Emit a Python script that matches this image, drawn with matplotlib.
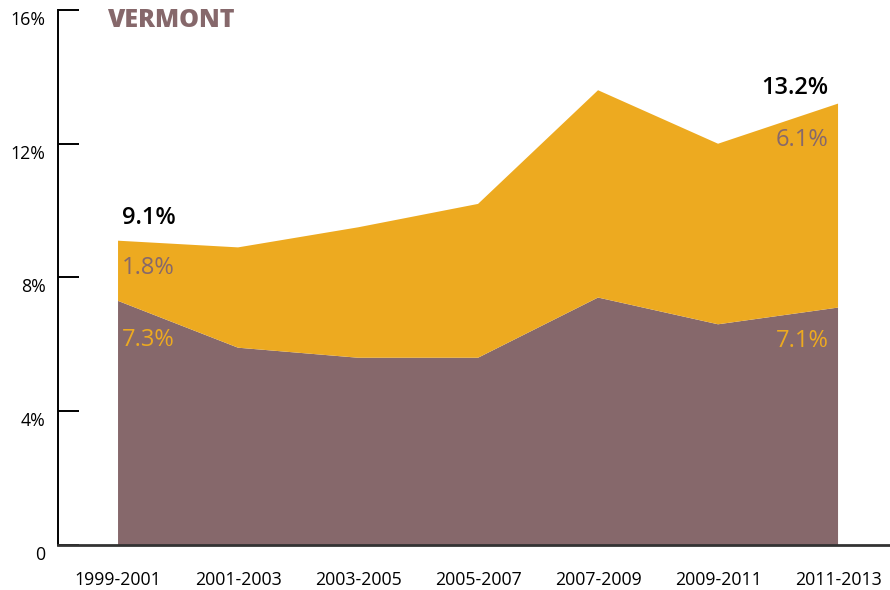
import numpy as np
import matplotlib.pyplot as plt
from matplotlib.transforms import ScaledTranslation

plt.rcParams['font.family'] = ['Open Sans', 'DejaVu Sans']

# rates per period, in percent
periods = ["1999-2001", "2001-2003", "2003-2005", "2005-2007", "2007-2009", "2009-2011", "2011-2013"]
lower = [7.3, 5.9, 5.6, 5.6, 7.4, 6.6, 7.1]
upper = [1.8, 3.0, 3.9, 4.6, 6.2, 5.4, 6.1]
yticks = [0, 4, 8, 12, 16]
ytick_labels = ["0", "4%", "8%", "12%", "16%"]

purple = "#86686b"
gold = "#edaa20"

total = np.array(lower) + np.array(upper)
x = np.arange(len(periods))

fig = plt.figure(figsize=(8.9, 5.9), dpi=100)
ax = fig.add_axes([0.0652, 0.0763, 0.9348, 0.9068])

ax.stackplot(x, lower, upper, colors=[purple, gold], linewidth=0)

ax.set_xlim(-0.5, 6.433)
ax.set_ylim(0, 16)

#spines: black on the left, dark grey along the bottom
for s in ["top", "right"]:
    ax.spines[s].set_visible(False)
ax.spines["left"].set_color("black")
ax.spines["left"].set_linewidth(1.4)
ax.spines["bottom"].set_color("#333333")
ax.spines["bottom"].set_linewidth(2)

ax.set_xticks(x)
ax.set_xticklabels(periods, fontsize=12.8)
ax.tick_params(axis="x", length=0, pad=19)

ax.set_yticks(yticks)
ax.set_yticklabels(ytick_labels, fontsize=12.8)
ax.tick_params(axis="y", direction="in", length=15, width=1.4, color="black", pad=9)
# shift the y labels a little below their ticks
for lab in ax.get_yticklabels():
    lab.set_transform(lab.get_transform() + ScaledTranslation(0, -8 / 100, fig.dpi_scale_trans))

ax.text(0.059, 1.004, "VERMONT", transform=ax.transAxes, color=purple, fontsize=18,
        fontweight="heavy", va="top", ha="left")

#value labels at both ends
first, last = 0, len(periods) - 1
ax.annotate(f"{total[first]:.1f}%", (first, total[first]), xytext=(3, 16), textcoords="offset points",
            fontsize=17, fontweight="semibold", color="black", ha="left", va="center")
ax.annotate(f"{upper[first]:.1f}%", (first, total[first]), xytext=(3, -20), textcoords="offset points",
            fontsize=17, color=purple, ha="left", va="center")
ax.annotate(f"{lower[first]:.1f}%", (first, lower[first]), xytext=(3, -28), textcoords="offset points",
            fontsize=17, color=gold, ha="left", va="center")

ax.annotate(f"{total[last]:.1f}%", (last, total[last]), xytext=(-7, 11), textcoords="offset points",
            fontsize=17, fontweight="semibold", color="black", ha="right", va="center")
ax.annotate(f"{upper[last]:.1f}%", (last, total[last]), xytext=(-7, -26), textcoords="offset points",
            fontsize=17, color=purple, ha="right", va="center")
ax.annotate(f"{lower[last]:.1f}%", (last, lower[last]), xytext=(-7, -24), textcoords="offset points",
            fontsize=17, color=gold, ha="right", va="center")

fig.savefig("out.png", dpi=100)
